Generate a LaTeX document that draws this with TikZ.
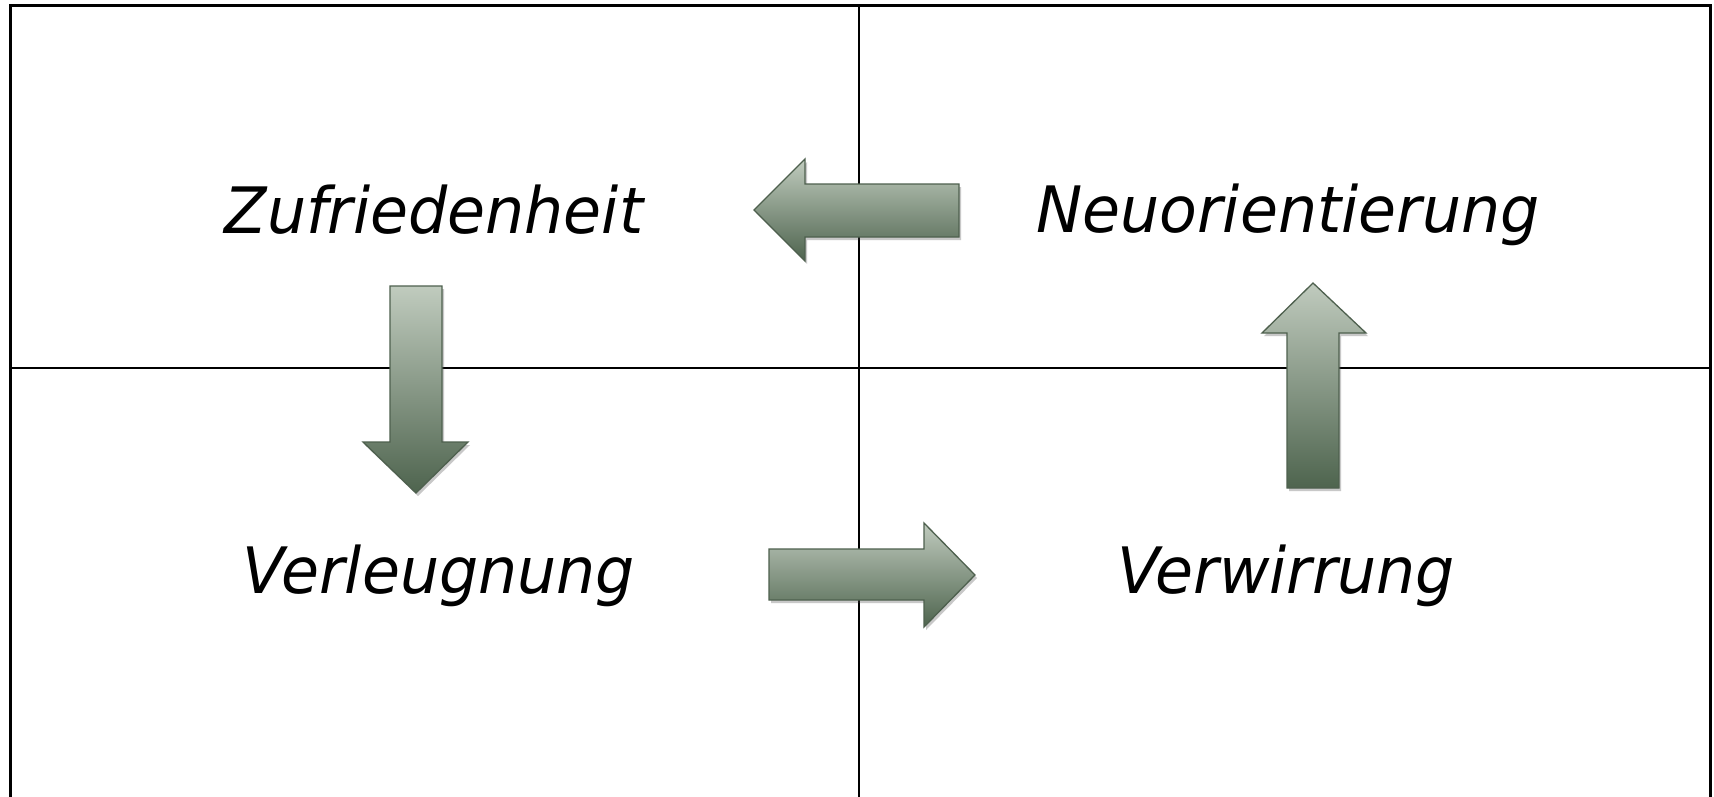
\documentclass[tikz,border=0pt]{standalone}
\usepackage{fontspec}
\setmainfont{DejaVu Sans}[FakeStretch=0.965]
\usetikzlibrary{shadows}
\definecolor{arrlight}{RGB}{192,203,190}
\definecolor{arrdark}{RGB}{78,100,78}
\definecolor{arredge}{RGB}{78,96,78}
\tikzset{
  frameline/.style={line width=3pt, black},
  gridline/.style={line width=2.2pt, black},
  blockarrow/.style={draw=arredge, line width=1.3pt, line join=miter,
    top color=arrlight, bottom color=arrdark,
    drop shadow={shadow xshift=2pt, shadow yshift=-3pt, opacity=0.3, fill=black!70}},
  phase/.style={font=\fontsize{64}{70}\selectfont\itshape, anchor=base, inner sep=0pt}
}
\begin{document}
\begin{tikzpicture}[x=1pt,y=-1pt]
\useasboundingbox (0,0) rectangle (1714,796);
\fill[white] (0,0) rectangle (1714,796);
% frame
\draw[frameline] (10,800) -- (10,5.5) -- (1710,5.5) -- (1710,800);
\draw[gridline] (859,5.5) -- (859,800);
\draw[gridline] (10,368) -- (1710,368);
% arrows
\path[blockarrow] (754,210) -- (805,159) -- (805,184) -- (959,184) -- (959,237) -- (805,237) -- (805,261) -- cycle;
\path[blockarrow] (390,286) -- (442,286) -- (442,442) -- (468,442) -- (416,493) -- (363,442) -- (390,442) -- cycle;
\path[blockarrow] (1313,283) -- (1366,333) -- (1339,333) -- (1339,488) -- (1287,488) -- (1287,333) -- (1262,333) -- cycle;
\path[blockarrow] (769,549) -- (924,549) -- (924,523) -- (975,575) -- (924,627) -- (924,600) -- (769,600) -- cycle;
% labels
\node[phase] (zuf) at (434,233) {Zufriedenheit};
\node[phase] (neu) at (1288,232) {Neuorientierung};
\node[phase] (ver) at (439,593) {Verleugnung};
\node[phase] (wir) at (1286,593) {Verwirrung};
\end{tikzpicture}
\end{document}
